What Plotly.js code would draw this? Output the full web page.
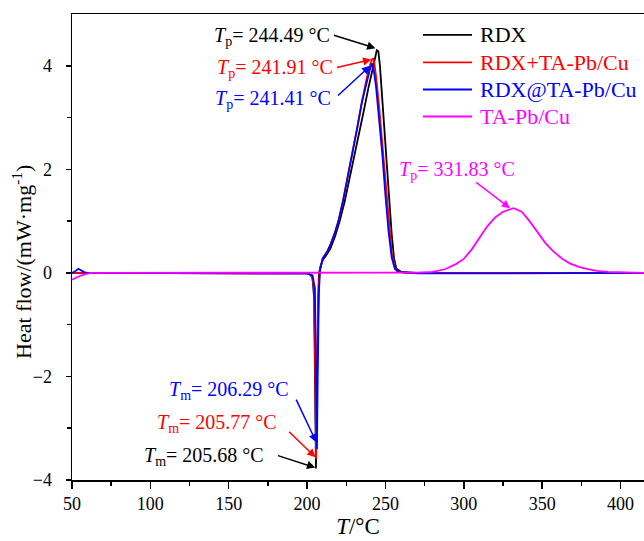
<!DOCTYPE html>
<html>
<head>
<meta charset="utf-8">
<script src="https://cdn.plot.ly/plotly-3.0.1.min.js"></script>
<style>html,body{margin:0;padding:0;background:#fff;}#chart{width:644px;height:541px;}</style>
</head>
<body>
<div id="chart"></div>
<script>
// ---- Data ----
const seriesNames = ["RDX", "RDX+TA-Pb/Cu", "RDX@TA-Pb/Cu", "TA-Pb/Cu"];

const rdxT = [50, 60, 80, 100, 120, 150, 180, 195, 200, 202, 203.5, 204.5, 205.2, 205.68, 206.2, 206.8, 207.5, 208.5, 210, 212, 215, 218, 221, 224, 227, 230, 233, 236, 239, 241.5, 243.3, 244.49, 245.5, 246.5, 248, 250, 252, 254, 255.5, 257, 260, 270, 300, 350, 415];
const rdxV = [0, 0, 0, -0.01, 0, 0, 0, 0, -0.01, -0.03, -0.1, -0.5, -2.4, -3.78, -2.3, -0.7, -0.05, 0.12, 0.25, 0.33, 0.48, 0.72, 1.02, 1.38, 1.8, 2.22, 2.65, 3.1, 3.55, 3.9, 4.18, 4.3, 4.28, 4.0, 3.35, 2.45, 1.55, 0.75, 0.28, 0.08, 0.02, 0, 0, 0, 0];

const mixT = [50, 60, 80, 100, 150, 200, 203, 204.5, 205.4, 205.77, 206.3, 207, 208, 210, 213, 215, 218, 220, 223, 226, 229, 232, 235, 238, 240.5, 241.91, 242.8, 244, 246, 248, 250, 252, 254, 256, 258, 262, 300, 350, 415];
const mixV = [0, 0, 0, 0, 0, -0.01, -0.05, -0.3, -2.4, -3.6, -2.2, -0.5, 0.05, 0.28, 0.42, 0.55, 0.8, 1.0, 1.4, 1.85, 2.3, 2.8, 3.3, 3.75, 4.05, 4.15, 4.08, 3.8, 3.2, 2.5, 1.7, 1.0, 0.4, 0.1, 0.03, 0, 0, 0, 0];

const coreT = [50, 52, 54, 56, 58, 60, 80, 100, 150, 200, 203.5, 205, 205.9, 206.29, 206.8, 207.5, 208.3, 210, 213, 215, 218, 220, 223, 226, 229, 232, 235, 238, 240, 241.41, 242.5, 244, 246, 248, 250, 252, 254, 256, 258, 270, 300, 350, 415];
const coreV = [0, 0.03, 0.08, 0.05, 0.01, 0, 0, -0.01, 0, -0.01, -0.05, -0.3, -2.3, -3.4, -2.0, -0.4, 0.05, 0.28, 0.42, 0.55, 0.8, 1.0, 1.4, 1.85, 2.3, 2.8, 3.3, 3.7, 3.92, 4.05, 3.92, 3.6, 3.0, 2.3, 1.5, 0.8, 0.3, 0.08, 0.02, -0.01, -0.01, -0.01, 0];

const taT = [50, 52, 55, 58, 62, 70, 100, 150, 200, 250, 270, 280, 288, 295, 300, 305, 310, 315, 320, 325, 331.83, 337, 342, 347, 352, 357, 363, 368, 374, 380, 385, 392, 400, 415];
const taV = [-0.13, -0.1, -0.06, -0.03, 0, 0, 0, 0, 0, 0, 0.005, 0.02, 0.07, 0.17, 0.27, 0.45, 0.68, 0.9, 1.07, 1.18, 1.25, 1.18, 1.0, 0.8, 0.58, 0.42, 0.27, 0.18, 0.11, 0.07, 0.04, 0.02, 0.01, 0];

const xTicks = [50, 100, 150, 200, 250, 300, 350, 400];
const yTicks = [-4, -2, 0, 2, 4];

const colors = ["#000000", "#ff0000", "#0000ff", "#ff00ff"];

// annotation labels: text position (tx,ty), arrow tail (ax,ay), arrow head (hx,hy)
const peakLabels = [
  {txt: "<i>T</i><sub>p</sub>= 244.49 °C", tx: 139.2, ty: 4.56, ax: 216.2, ay: 4.6, hx: 243.6, hy: 4.34, c: 0},
  {txt: "<i>T</i><sub>p</sub>= 241.91 °C", tx: 141.2, ty: 3.94, ax: 218.1, ay: 3.96, hx: 241.0, hy: 4.12, c: 1},
  {txt: "<i>T</i><sub>p</sub>= 241.41 °C", tx: 139.9, ty: 3.35, ax: 218.8, ay: 3.4, hx: 240.3, hy: 4.0, c: 2},
  {txt: "<i>T</i><sub>p</sub>= 331.83 °C", tx: 257.6, ty: 1.98, ax: 307.0, ay: 1.77, hx: 329.5, hy: 1.25, c: 3},
  {txt: "<i>T</i><sub>m</sub>= 206.29 °C", tx: 110.5, ty: -2.27, ax: 192.6, ay: -2.42, hx: 205.9, hy: -3.27, c: 2},
  {txt: "<i>T</i><sub>m</sub>= 205.77 °C", tx: 102.9, ty: -2.9, ax: 187.6, ay: -3.04, hx: 205.4, hy: -3.56, c: 1},
  {txt: "<i>T</i><sub>m</sub>= 205.68 °C", tx: 94.6, ty: -3.54, ax: 180.5, ay: -3.52, hx: 205.2, hy: -3.76, c: 0}
];

const FONT = "Liberation Serif, Times New Roman, serif";

const xs = [rdxT, mixT, coreT, taT];
const ys = [rdxV, mixV, coreV, taV];
const traces = seriesNames.map((n, i) => ({
  type: "scatter", mode: "lines", x: xs[i], y: ys[i], name: n,
  line: {color: colors[i], width: 1.8},
  hoverinfo: "skip", showlegend: false
}));

const annotations = [];
const shapes = [];
peakLabels.forEach(p => {
  annotations.push({x: p.tx, y: p.ty, xref: "x", yref: "y", text: p.txt, showarrow: false,
    xanchor: "left", yanchor: "middle", font: {family: FONT, size: 20, color: colors[p.c]}});
  annotations.push({x: p.hx, y: p.hy, xref: "x", yref: "y", ax: p.ax, ay: p.ay, axref: "x", ayref: "y",
    text: "", showarrow: true, arrowhead: 2, arrowsize: 1.1, arrowwidth: 1.5, arrowcolor: colors[p.c]});
});

// legend drawn as line samples + coloured labels (paper coordinates)
const legRowY = [0.955, 0.896, 0.838, 0.78];
seriesNames.forEach((n, i) => {
  shapes.push({type: "line", xref: "paper", yref: "paper", x0: 0.6136, x1: 0.6993, y0: legRowY[i], y1: legRowY[i],
    line: {color: colors[i], width: 1.8}});
  annotations.push({xref: "paper", yref: "paper", x: 0.7098, y: legRowY[i], text: n, showarrow: false,
    xanchor: "left", yanchor: "middle", font: {family: FONT, size: 22, color: colors[i]}});
});

// y-axis title placed as rotated text beside the axis
annotations.push({xref: "paper", yref: "paper", x: -0.0874, y: 0.468, textangle: -90, showarrow: false,
  xanchor: "center", yanchor: "middle", text: "Heat flow/(mW·mg<sup>-1</sup>)",
  font: {family: FONT, size: 22, color: "#000"}});

const layout = {
  width: 644, height: 541,
  margin: {l: 72, r: 0, t: 14, b: 61},
  paper_bgcolor: "#fff", plot_bgcolor: "#fff",
  font: {family: FONT, size: 18, color: "#000"},
  showlegend: false,
  xaxis: {
    range: [50, 415], showgrid: false, zeroline: false,
    showline: true, linecolor: "#000", linewidth: 1.5, mirror: true,
    ticks: "outside", ticklen: 7, tickwidth: 1.5, tickcolor: "#000",
    tickvals: xTicks,
    minor: {tickvals: [75, 125, 175, 225, 275, 325, 375], ticks: "outside", ticklen: 4, tickwidth: 1.5, tickcolor: "#000"},
    tickfont: {family: FONT, size: 18},
    title: {text: "<i>T</i>/°C", font: {family: FONT, size: 23}, standoff: 2}
  },
  yaxis: {
    range: [-4, 5], showgrid: false, zeroline: false,
    showline: true, linecolor: "#000", linewidth: 1.5,
    ticks: "outside", ticklen: 5, tickwidth: 1.5, tickcolor: "#000",
    ticklabelstandoff: 10,
    tickvals: yTicks,
    minor: {tickvals: [-3, -1, 1, 3], ticks: "outside", ticklen: 4, tickwidth: 1.5, tickcolor: "#000"},
    tickfont: {family: FONT, size: 18}
  },
  shapes: shapes,
  annotations: annotations
};

Plotly.newPlot("chart", traces, layout, {staticPlot: true, displayModeBar: false});
</script>
</body>
</html>
